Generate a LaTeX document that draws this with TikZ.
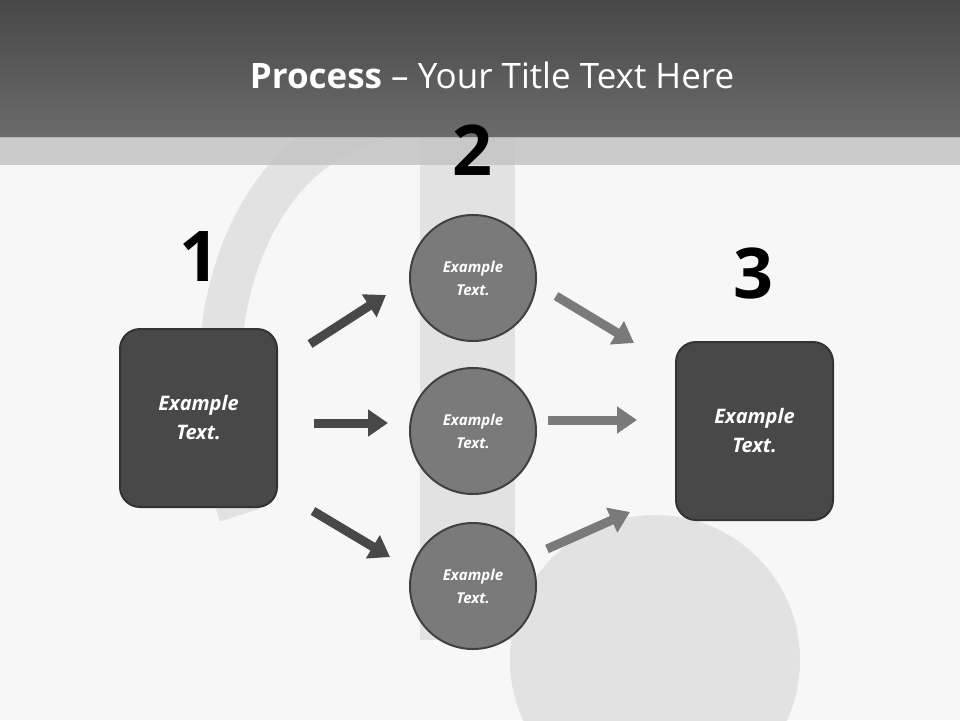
\documentclass[tikz,border=0pt]{standalone}
\usepackage{fontspec}
\setmainfont{Open Sans}
\usetikzlibrary{arrows.meta}
\definecolor{boxc}{HTML}{484848}
\definecolor{circc}{HTML}{7A7A7A}
\definecolor{bgc}{HTML}{F7F7F7}
\definecolor{ghost}{HTML}{E2E2E2}
\tikzset{
 sq/.style={draw=black!80,line width=2pt,fill=boxc,rounded corners=20pt,minimum width=157pt,minimum height=178pt,text=white,align=center,font=\fontsize{20}{29}\selectfont\bfseries\itshape},
 circ/.style={circle,draw=black!75,line width=2pt,fill=circc,minimum size=126pt,text=white,align=center,font=\fontsize{15}{23}\selectfont\bfseries\itshape},
 num/.style={font=\fontsize{70}{70}\selectfont\bfseries},
 darr/.style={draw=boxc,line width=9pt,-{Triangle[length=20pt,width=26pt]}},
 larr/.style={draw=circc,line width=9pt,-{Triangle[length=20pt,width=26pt]}}
}
\begin{document}
\begin{tikzpicture}[x=1pt,y=-1pt]
\useasboundingbox (0,0) rectangle (960,720);
\fill[bgc] (0,0) rectangle (960,720);
% ghost headphone
\draw[ghost,line width=42pt] (240,515) .. controls (180,330) and (250,110) .. (430,115);
\fill[ghost] (420,137) rectangle (515,640);
\fill[ghost] (655,660) circle (145);
% title bar
\shade[top color=black!72,bottom color=black!58] (0,0) rectangle (960,137);
\fill[black!23,opacity=0.85] (0,137) rectangle (960,165);
\node[text=white,font=\fontsize{35}{40}\selectfont] (title) at (492,75) {\textbf{Process} – Your Title Text Here};
% nodes
\node[sq] (b1) at (198.5,418) {Example\\Text.};
\node[sq] (b3) at (754.5,431) {Example\\Text.};
\node[circ] (c1) at (473,278) {Example\\Text.};
\node[circ] (c2) at (473,431) {Example\\Text.};
\node[circ] (c3) at (473,586) {Example\\Text.};
\node[num] (n1) at (199,257) {1};
\node[num] (n2) at (472,150) {2};
\node[num] (n3) at (753,273) {3};
% arrows
\coordinate (a1s) at (310,344); \coordinate (a1e) at (386,295);
\coordinate (a2s) at (314,423); \coordinate (a2e) at (388,423);
\coordinate (a3s) at (313,511); \coordinate (a3e) at (390,557);
\coordinate (r1s) at (556,296); \coordinate (r1e) at (634,343);
\coordinate (r2s) at (548,420); \coordinate (r2e) at (637,420);
\coordinate (r3s) at (547,549); \coordinate (r3e) at (630,512);
\draw[darr] (a1s) -- (a1e);
\draw[darr] (a2s) -- (a2e);
\draw[darr] (a3s) -- (a3e);
\draw[larr] (r1s) -- (r1e);
\draw[larr] (r2s) -- (r2e);
\draw[larr] (r3s) -- (r3e);
\end{tikzpicture}
\end{document}
